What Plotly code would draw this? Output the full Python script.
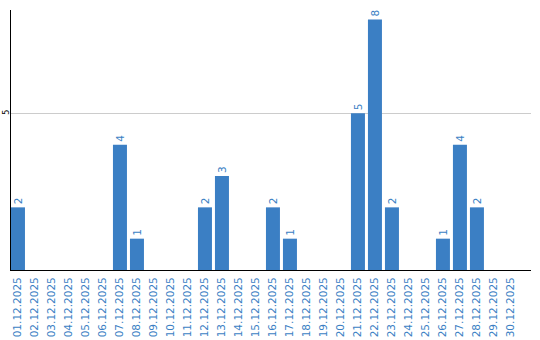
import plotly.graph_objects as go

dates = [f"{d:02d}.12.2025" for d in range(1, 31)]
values = [2, 0, 0, 0, 0, 0, 4, 1, 0, 0, 0, 2, 3, 0, 0, 2, 1, 0, 0, 0, 5, 8, 2, 0, 0, 1, 4, 2, 0, 0]
labels = [str(v) if v else "" for v in values]

BLUE = "#3b7fc4"

fig = go.Figure(go.Bar(
    x=list(range(len(dates))), y=values, text=labels,
    textposition="outside", textangle=-90, cliponaxis=False,
    textfont=dict(family="DejaVu Sans", size=10.5, color=BLUE),
    marker=dict(color=BLUE, line=dict(width=0)),
    width=14/17,
))

fig.update_layout(
    width=540, height=340,
    margin=dict(l=11, r=9, t=10, b=70, autoexpand=False),
    paper_bgcolor="white", plot_bgcolor="white",
    showlegend=False,
    xaxis=dict(
        range=[-0.41, 30.18], tickmode="array",
        tickvals=list(range(len(dates))), ticktext=dates,
        tickangle=-90, tickfont=dict(family="DejaVu Sans", size=10.5, color=BLUE),
        showline=True, linecolor="black", linewidth=1, showgrid=False,
        ticks="", zeroline=False, automargin=False, ticklabelstandoff=2,
    ),
    yaxis=dict(
        range=[0, 8.3], tickvals=[5], ticktext=["5"], tickangle=-90,
        tickfont=dict(family="DejaVu Sans", size=8, color="black"),
        showline=True, linecolor="black", linewidth=1,
        showgrid=True, gridcolor="#cccccc", gridwidth=1,
        zeroline=False, ticks="", layer="below traces", automargin=False,
        ticklabelstandoff=-2,
    ),
)

fig.write_html("out.html")
